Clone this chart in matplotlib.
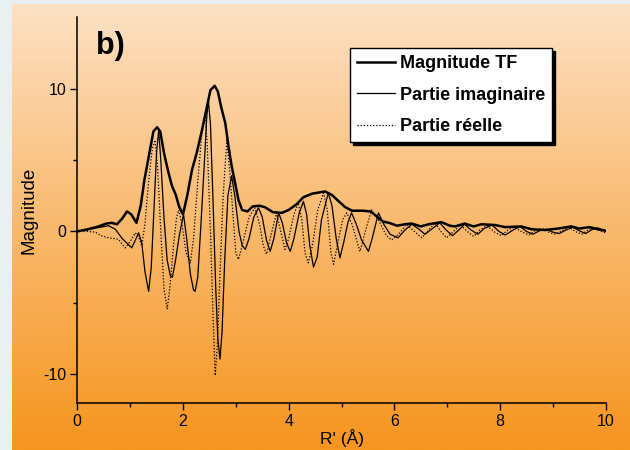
import numpy as np
import matplotlib
matplotlib.use('Agg')
from matplotlib import pyplot as plt
from matplotlib.colors import LinearSegmentedColormap

plt.rcParams['font.family'] = ['Liberation Sans', 'DejaVu Sans']
plt.rcParams['axes.unicode_minus'] = False

# magnitude of the Fourier transform (thick line)
mag_r = [0.0, 0.2, 0.4, 0.55, 0.65, 0.75, 0.85, 0.94, 1.02, 1.12, 1.2, 1.27, 1.32, 1.38,
         1.44, 1.51, 1.57, 1.64, 1.72, 1.79, 1.86, 1.93, 2.0, 2.08, 2.17, 2.26, 2.36, 2.44,
         2.52, 2.6, 2.66, 2.73, 2.8, 2.86, 2.92, 2.98, 3.05, 3.12, 3.22, 3.32, 3.45, 3.55,
         3.7, 3.87, 4.0, 4.15, 4.28, 4.45, 4.69, 4.82, 4.95, 5.07, 5.2, 5.4, 5.55, 5.65,
         5.78, 5.9, 6.05, 6.2, 6.33, 6.5, 6.65, 6.89, 7.05, 7.15, 7.33, 7.5, 7.65, 7.9,
         8.1, 8.4, 8.6, 8.85, 9.1, 9.35, 9.5, 9.7, 9.85, 10.0]
mag_v = [0.0, 0.15, 0.35, 0.55, 0.6, 0.5, 0.9, 1.4, 1.2, 0.6, 1.8, 3.6, 4.6, 5.8,
         7.0, 7.3, 7.0, 5.5, 4.2, 3.2, 2.6, 1.7, 1.2, 2.5, 4.3, 5.5, 7.1, 8.5,
         9.9, 10.2, 9.8, 8.6, 7.6, 6.0, 4.6, 3.5, 2.2, 1.5, 1.4, 1.75, 1.8, 1.7,
         1.35, 1.3, 1.5, 1.9, 2.4, 2.65, 2.8, 2.55, 2.1, 1.7, 1.45, 1.45, 1.4, 1.1,
         0.7, 0.6, 0.4, 0.5, 0.55, 0.35, 0.5, 0.65, 0.4, 0.35, 0.55, 0.35, 0.5, 0.45,
         0.3, 0.35, 0.15, 0.1, 0.2, 0.35, 0.2, 0.3, 0.15, 0.05]

# imaginary part (thin solid line)
im_r = [0.0, 0.3, 0.59, 0.72, 0.85, 1.03, 1.1, 1.16, 1.22, 1.28, 1.35, 1.4, 1.45, 1.5,
        1.54, 1.58, 1.64, 1.7, 1.76, 1.8, 1.86, 1.93, 2.01, 2.07, 2.14, 2.2, 2.23, 2.28,
        2.34, 2.4, 2.45, 2.48, 2.52, 2.57, 2.62, 2.66, 2.7, 2.74, 2.79, 2.85, 2.92, 2.98,
        3.06, 3.12, 3.18, 3.25, 3.34, 3.43, 3.5, 3.58, 3.65, 3.72, 3.81, 3.88, 3.96, 4.03,
        4.1, 4.2, 4.28, 4.34, 4.4, 4.47, 4.54, 4.62, 4.75, 4.82, 4.9, 4.97, 5.04, 5.12,
        5.19, 5.28, 5.38, 5.51, 5.58, 5.7, 5.8, 5.92, 6.07, 6.2, 6.33, 6.45, 6.58, 6.72,
        6.86, 6.98, 7.1, 7.22, 7.33, 7.45, 7.58, 7.7, 7.85, 7.98, 8.1, 8.25, 8.38, 8.5,
        8.62, 8.75, 8.88, 9.0, 9.12, 9.25, 9.38, 9.5, 9.62, 9.75, 9.85, 10.0]
im_v = [0.0, 0.2, 0.4, 0.15, -0.5, -1.15, -0.6, -0.1, -0.8, -2.8, -4.2, -2.5, 1.5, 5.5,
        7.1, 5.0, 1.0, -2.0, -3.1, -3.2, -2.0, -0.3, 1.2, -0.5, -3.0, -4.1, -4.2, -3.2,
        0.5, 4.5, 8.0, 9.2, 7.5, 2.0, -4.0, -7.5, -8.95, -7.0, -2.0, 2.5, 3.9, 2.5,
        0.0, -1.0, -1.26, -0.5, 1.0, 1.66, 1.0, -0.6, -1.4, -0.5, 1.3, 0.6, -0.8, -1.4,
        -0.5, 1.3, 2.1, 1.2, -1.0, -2.5, -1.8, 0.8, 2.7, 1.8, -0.5, -1.85, -0.8, 0.6,
        1.3, 0.5, -0.6, -1.4, -0.5, 1.3, 0.5, -0.2, -0.45, 0.1, 0.5, 0.2, -0.2, 0.2,
        0.6, 0.1, -0.3, 0.1, 0.5, 0.1, -0.2, 0.2, 0.45, 0.0, -0.25, 0.1, 0.35, 0.0,
        -0.2, 0.05, 0.15, -0.05, -0.15, 0.1, 0.3, 0.05, -0.15, 0.15, 0.25, 0.0]

# real part (dotted line)
re_r = [0.0, 0.2, 0.34, 0.45, 0.59, 0.7, 0.78, 0.85, 0.91, 1.0, 1.1, 1.16, 1.22, 1.28,
        1.35, 1.42, 1.47, 1.52, 1.58, 1.64, 1.7, 1.75, 1.82, 1.88, 1.92, 1.98, 2.06, 2.14,
        2.2, 2.28, 2.36, 2.42, 2.46, 2.52, 2.57, 2.61, 2.65, 2.7, 2.76, 2.83, 2.89, 2.96,
        3.0, 3.05, 3.12, 3.25, 3.36, 3.45, 3.52, 3.58, 3.65, 3.77, 3.85, 3.93, 4.0, 4.1,
        4.18, 4.25, 4.31, 4.37, 4.45, 4.55, 4.66, 4.73, 4.8, 4.85, 4.92, 5.02, 5.1, 5.2,
        5.3, 5.35, 5.45, 5.57, 5.7, 5.85, 5.95, 6.08, 6.23, 6.38, 6.52, 6.65, 6.77, 6.88,
        6.99, 7.12, 7.25, 7.38, 7.5, 7.62, 7.75, 7.9, 8.02, 8.15, 8.28, 8.42, 8.55, 8.68,
        8.8, 8.95, 9.05, 9.2, 9.3, 9.45, 9.55, 9.68, 9.8, 9.92, 10.0]
re_v = [0.0, 0.0, -0.05, -0.3, -0.45, -0.5, -0.55, -0.9, -1.15, -0.7, -0.1, -0.4, -1.0, 0.5,
        3.5, 5.8, 6.4, 4.5, 0.0, -4.0, -5.45, -4.0, -1.0, 1.0, 1.5, 0.5, -1.5, -2.2,
        -0.5, 3.5, 7.0, 8.2, 6.0, 0.0, -6.0, -10.1, -8.0, -3.0, 2.5, 6.4, 4.0, 0.5,
        -1.5, -1.96, -1.0, 1.0, 1.65, 0.5, -1.0, -1.6, -0.5, 1.3, 0.0, -1.26, -0.5, 1.2,
        2.0, 0.8, -1.5, -2.2, -1.0, 1.5, 2.7, 1.5, -1.5, -2.3, -1.0, 0.8, 1.3, 0.5,
        -0.8, -1.4, 0.0, 1.5, 0.8, -0.3, -0.6, -0.2, 0.5, 0.0, -0.45, 0.1, 0.6, 0.0,
        -0.45, 0.0, 0.45, 0.0, -0.35, 0.1, 0.4, -0.05, -0.3, 0.1, 0.3, -0.05, -0.25, 0.1,
        0.2, -0.1, -0.2, 0.1, 0.3, -0.05, -0.2, 0.15, 0.25, 0.0, -0.1]

fig = plt.figure(figsize=(6.3, 4.5), dpi=100)
fig.patch.set_facecolor('#eaf0f2')

# orange gradient background
bg = fig.add_axes([12 / 630, 0, 1 - 12 / 630, 1 - 4 / 450])
bg.axis('off')
cmap = LinearSegmentedColormap.from_list('bg', ['#fde1c4', '#f9b96d', '#f6951f'])
bg.imshow(np.linspace(0, 1, 256).reshape(-1, 1), aspect='auto', cmap=cmap,
          extent=[0, 1, 0, 1])

ax = fig.add_axes([77.3 / 630, 1 - 402.7 / 450, 528.4 / 630, 385.4 / 450])
ax.patch.set_alpha(0)

ax.plot(mag_r, mag_v, color='black', lw=1.8, label='Magnitude TF', zorder=3)
ax.plot(im_r, im_v, color='black', lw=0.9, label='Partie imaginaire')
ax.plot(re_r, re_v, color='black', lw=0.9, ls=(0, (1, 1.5)), label='Partie réelle')

ax.set_xlim(0, 10)
ax.set_ylim(-12, 15)
ax.set_xticks([0, 2, 4, 6, 8, 10])
ax.set_xticks([1, 3, 5, 7, 9], minor=True)
ax.set_yticks([-10, 0, 10])
ax.set_yticks([-5, 5], minor=True)
ax.tick_params(which='major', direction='out', length=5, width=1, labelsize=11.5, pad=3)
ax.tick_params(which='minor', direction='out', length=3, width=1)
for s in ['top', 'right']:
    ax.spines[s].set_visible(False)
for s in ['left', 'bottom']:
    ax.spines[s].set_linewidth(1.1)

ax.set_xlabel("R' (Å)", fontsize=12.5, labelpad=0)
ax.set_ylabel('Magnitude', fontsize=13.5, labelpad=4)

ax.text(0.036, 0.965, 'b)', transform=ax.transAxes, fontsize=22, fontweight='bold',
        va='top', ha='left')

leg = ax.legend(loc='upper left', bbox_to_anchor=(0.516, 0.92), borderaxespad=0,
                frameon=True, fancybox=False, edgecolor='black', framealpha=1,
                shadow={'color': 'black', 'alpha': 1}, handlelength=2.1,
                handletextpad=0.25, labelspacing=0.8, borderpad=0.4,
                prop={'weight': 'bold', 'size': 13})
leg.get_frame().set_linewidth(1.0)

fig.savefig('out.png', dpi=100)
